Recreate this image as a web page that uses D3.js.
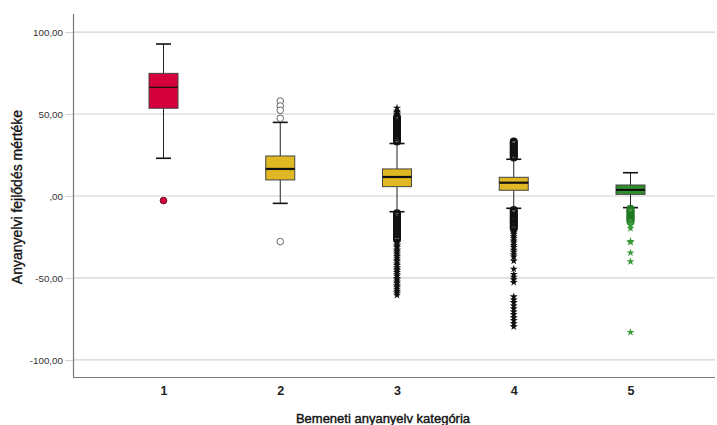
<!DOCTYPE html>
<html><head><meta charset="utf-8">
<script src="https://cdn.jsdelivr.net/npm/d3@7"></script>
<style>body{margin:0;background:#fff}svg{display:block}</style>
</head><body>
<script>
const categories = ["1","2","3","4","5"];
const whiskerLow  = [23.0, -4.5, -9.6, -7.5, -7.1];
const q1          = [53.5,  9.8,  5.7,  3.5,  1.0];
const medians     = [66.3, 16.5, 11.6,  8.1,  3.7];
const q3          = [74.8, 24.4, 16.5, 11.4,  6.7];
const whiskerHigh = [92.7, 44.9, 32.0, 22.4, 14.2];
const boxColors   = ["#d5003b","#e0b823","#e0b823","#e0b823","#2f8f2f"];
const markColors  = ["#6a1020","#666666","#111111","#111111","#1f7a1f"];
// outliers (circles) and extremes (stars) per category
const outliers = [
  [-2.8],
  [57.9, 54.9, 52.3, 47.4, -27.8],
  [33.2,34.1,34.7,35.6,36.2,37.0,37.9,38.7,39.3,40.3,41.0,41.8,42.4,43.4,44.0,44.9,45.5,46.5,47.1,48.1,
   -10.6,-11.4,-12.0,-12.9,-13.5,-14.4,-15.3,-16.0,-16.8,-17.7,-18.5,-19.2,-20.1,-20.9,-21.6,-22.6,-23.4,-24.5,-25.6,-26.4],
  [23.5,24.4,25.0,25.9,26.7,27.6,28.4,29.4,30.1,31.0,31.9,32.5,33.2,
   -8.6,-9.5,-10.2,-11.1,-12.1,-12.8,-13.6,-14.5,-15.3,-16.3,-17.0,-17.9,-18.9,-19.6],
  [-7.8,-8.7,-9.4,-10.3,-11.1,-12.0,-12.8,-13.8,-14.6,-15.5]
];
const extremes = [
  [],
  [],
  [49.5,50.2,51.1,51.8,53.7,
   -27.4,-28.4,-29.7,-30.5,-31.4,-32.8,-33.6,-34.7,-35.9,-36.8,-37.8,-39.1,-40.0,-41.3,-42.2,-43.6,-44.5,-45.5,-46.6,-47.9,-48.8,-50.2,-51.1,-52.4,-53.4,-54.7,-55.5,-56.7,-58.0,-59.1,-60.4],
  [-20.6,-21.4,-22.5,-23.4,-24.8,-26.0,-27.4,-28.5,-30.1,-31.3,-33.0,-34.2,-35.9,-37.1,-39.6,-44.5,-47.8,-49.4,-51.0,-52.6,
   -61.4,-63.3,-64.9,-67.0,-68.6,-70.6,-72.2,-74.2,-75.8,-77.8,-79.7],
  [-16.5,-17.8,-19.7,-27.6,-28.2,-34.6,-40.0,-83.1]
];
const yTicks = [100, 50, 0, -50, -100];
const yTickLabels = ["100,00","50,00",",00","-50,00","-100,00"];
const xTitle = "Bemeneti anyanyelv kategória";
const yTitle = "Anyanyelvi fejlődés mértéke";

(function () {
const W = 717, H = 425;
const svg = d3.select("body").append("svg").attr("width", W).attr("height", H);
const mLeft = 73, mRight = 715, mTop = 14, mBottom = 377;
const y = d3.scaleLinear().domain([-110.4, 111]).range([mBottom, mTop]);
const x = d3.scalePoint().domain(categories).range([163.5, 630.5]);
const font = "'Liberation Sans', Arial, sans-serif";

const yAxis = d3.axisLeft(y).tickValues(yTicks).tickSize(8).tickPadding(2)
  .tickFormat((d, i) => yTickLabels[i]);
const gy = svg.append("g").attr("transform", `translate(${mLeft},0)`).call(yAxis);
gy.select(".domain").remove();
gy.selectAll(".tick line").attr("stroke", "#d2d2d2");
gy.selectAll(".tick text").attr("font-family", font).attr("font-size", 9.8).attr("fill", "#333");
svg.append("g").selectAll("line").data(yTicks).join("line")
  .attr("x1", mLeft).attr("x2", mRight).attr("y1", d => y(d)).attr("y2", d => y(d))
  .attr("stroke", "#d2d2d2").attr("stroke-width", 1.2);

svg.append("line").attr("x1", mLeft + 0.5).attr("x2", mLeft + 0.5).attr("y1", mTop).attr("y2", mBottom)
  .attr("stroke", "#7a7a7a").attr("stroke-width", 1.2);
const xAxis = d3.axisBottom(x).tickSize(0).tickPadding(9);
const gx = svg.append("g").attr("transform", `translate(0,${mBottom})`).call(xAxis);
gx.select(".domain").remove();
gx.selectAll(".tick text").attr("font-family", font).attr("font-size", 12.5).attr("font-weight", "bold").attr("fill", "#222");
svg.append("line").attr("x1", mLeft).attr("x2", mRight).attr("y1", mBottom + 0.5).attr("y2", mBottom + 0.5)
  .attr("stroke", "#7a7a7a").attr("stroke-width", 1.2);

const boxW = 29, capW = 15;
const g = svg.append("g");
categories.forEach((c, i) => {
  const cx = x(c);
  const gg = g.append("g");
  gg.append("line").attr("x1", cx).attr("x2", cx).attr("y1", y(whiskerHigh[i])).attr("y2", y(q3[i]))
    .attr("stroke", "#222").attr("stroke-width", 1);
  gg.append("line").attr("x1", cx).attr("x2", cx).attr("y1", y(q1[i])).attr("y2", y(whiskerLow[i]))
    .attr("stroke", "#222").attr("stroke-width", 1);
  [whiskerHigh[i], whiskerLow[i]].forEach(v => {
    gg.append("line").attr("x1", cx - capW / 2).attr("x2", cx + capW / 2).attr("y1", y(v)).attr("y2", y(v))
      .attr("stroke", "#111").attr("stroke-width", 1.6);
  });
  gg.append("rect").attr("x", cx - boxW / 2).attr("width", boxW)
    .attr("y", y(q3[i])).attr("height", y(q1[i]) - y(q3[i]))
    .attr("fill", boxColors[i]).attr("stroke", "#444").attr("stroke-width", 1);
  gg.append("line").attr("x1", cx - boxW / 2).attr("x2", cx + boxW / 2)
    .attr("y1", y(medians[i])).attr("y2", y(medians[i]))
    .attr("stroke", "#111").attr("stroke-width", i === 0 ? 1.2 : 2.2);

  gg.selectAll("circle.o").data(outliers[i]).join("circle")
    .attr("cx", cx).attr("cy", d => y(d)).attr("r", 3.3)
    .attr("fill", i === 0 ? boxColors[0] : (i === 1 ? "#fff" : "none"))
    .attr("stroke", markColors[i]).attr("stroke-width", i >= 2 ? 1.4 : 1);
  const star = d3.symbol().type(d3.symbolStar).size(20);
  gg.selectAll("path.e").data(extremes[i]).join("path")
    .attr("transform", d => `translate(${cx},${y(d)})`).attr("d", star)
    .attr("fill", i === 4 ? "#3a9a3a" : markColors[i]).attr("stroke", "none");
});

svg.append("text").attr("x", 383).attr("y", 423).attr("text-anchor", "middle")
  .attr("font-family", font).attr("font-size", 13).attr("fill", "#111")
  .attr("stroke", "#111").attr("stroke-width", 0.4).text(xTitle);
svg.append("text").attr("transform", `translate(22,197) rotate(-90)`).attr("text-anchor", "middle")
  .attr("font-family", font).attr("font-size", 14).attr("fill", "#111")
  .attr("stroke", "#111").attr("stroke-width", 0.35).text(yTitle);
})();
</script>
</body></html>
